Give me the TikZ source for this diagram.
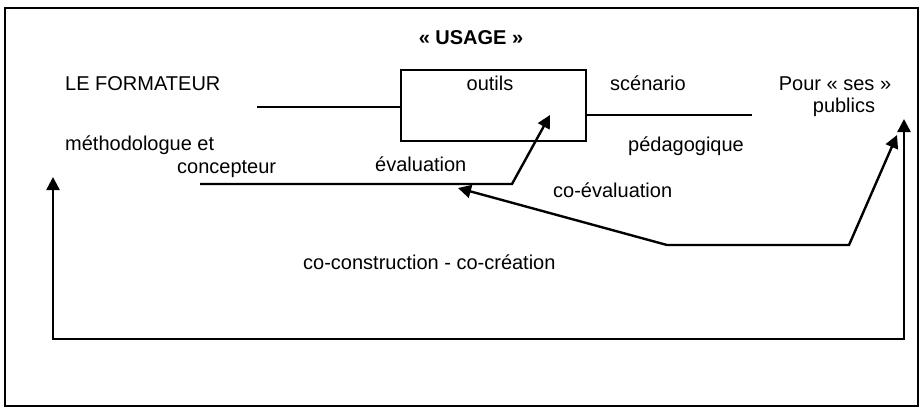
\documentclass[tikz,border=0pt]{standalone}
\usepackage{fontspec}
\setmainfont{Liberation Sans}
\usetikzlibrary{arrows.meta}
\begin{document}
\begin{tikzpicture}[x=1pt,y=-1pt,
  txt/.style={inner sep=0pt,anchor=base west,font=\fontsize{20}{24}\selectfont},
  frame/.style={draw,line width=2pt},
  link/.style={draw,line width=2.4pt},
  head/.tip={Triangle[length=13pt,width=13pt]},
  tip/.style={-head},
  both/.style={head-head}]
\useasboundingbox (0,0) rectangle (921,407);
% outer frame
\draw[frame] (5,8) rectangle (918,406);
% title
\node[txt,anchor=base,font=\fontsize{20}{24}\selectfont\bfseries] (title) at (471,44) {« USAGE »};
% the tool box
\node[draw,line width=2.6pt,minimum width=185pt,minimum height=71pt,inner sep=0pt] (tools) at (493.5,105.5) {};
\node[txt,anchor=base] (outils) at (490,90) {outils};
% left actor
\node[txt] (formateur) at (65,90) {LE FORMATEUR};
\node[txt] (methodo) at (65,150) {méthodologue et};
\node[txt] (concept) at (177,173) {concepteur};
% right side
\node[txt] (scenario) at (610,90) {scénario};
\node[txt] (pedago) at (628,151) {pédagogique};
\node[txt,anchor=base] (pour) at (835,90) {Pour « ses »};
\node[txt,anchor=base] (publics) at (844,112) {publics};
% lower labels
\node[txt] (evaluation) at (375,171) {évaluation};
\node[txt] (coeval) at (553,197) {co-évaluation};
\node[txt] (cocons) at (303,269) {co-construction - co-création};
% connection points
\coordinate (fmEnd) at (257,107);
\coordinate (fmBox) at (tools.west |- fmEnd);
\coordinate (scBox) at ([yshift=-9.5pt]tools.east);
\coordinate (scEnd) at (752,115);
\coordinate (evStart) at (200,184);
\coordinate (evKnee) at (512,184);
\coordinate (evTip) at (550,115);
\coordinate (coTip) at (458,188);
\coordinate (coA) at (667,245);
\coordinate (coB) at (849,245);
\coordinate (coPub) at (897,135);
\coordinate (loopL) at (53,177);
\coordinate (loopBL) at (53,339);
\coordinate (loopBR) at (904,339);
\coordinate (loopR) at (904,119);
% connectors
\draw[link] (fmEnd) -- (fmBox);
\draw[link] (scBox) -- (scEnd);
\draw[link,tip,line join=miter] (evStart) -- (evKnee) -- (evTip);
\draw[link,both,line join=miter] (coTip) -- (coA) -- (coB) -- (coPub);
\draw[link,both,line join=miter] (loopL) -- (loopBL) -- (loopBR) -- (loopR);
\end{tikzpicture}
\end{document}
